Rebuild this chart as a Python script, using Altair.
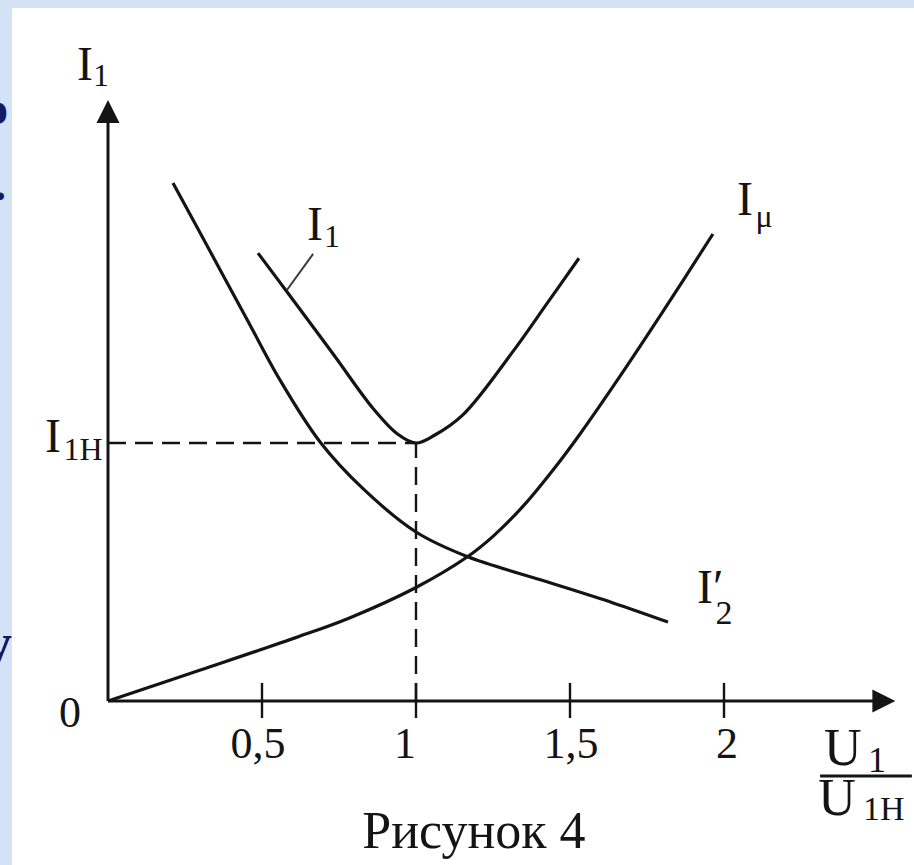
import altair as alt
import pandas as pd

# Voltage ratio U1/U1H (x) and currents in units of the rated current I1H (y)
u_mag = [0.0, 0.30, 0.62, 0.78, 1.0, 1.166, 1.25, 1.35, 1.45, 1.532, 1.662, 1.802, 1.964]
i_mag = [0.0, 0.12, 0.25, 0.32, 0.44, 0.558, 0.638, 0.758, 0.903, 1.034, 1.258, 1.51, 1.81]

u_load = [0.211, 0.331, 0.451, 0.558, 0.688, 0.828, 1.0, 1.166, 1.425, 1.640, 1.818]
i_load = [2.008, 1.744, 1.480, 1.245, 1.005, 0.823, 0.655, 0.560, 0.462, 0.380, 0.306]

u_prim = [0.487, 0.581, 0.731, 0.860, 0.94, 1.0, 1.06, 1.153, 1.315, 1.425, 1.529]
i_prim = [1.736, 1.586, 1.345, 1.135, 1.035, 1.0, 1.03, 1.11, 1.355, 1.54, 1.716]

rated_u = 1.0
rated_i = 1.0
tick_values = [0.5, 1.0, 1.5, 2.0]
tick_labels = ["0,5", "1", "1,5", "2"]
tick_label_u = [0.487, 0.964, 1.503, 2.010]

INK = "#141414"
FONT = "Liberation Serif"

X_DOM = [-0.3117, 2.6169]
Y_DOM = [-0.6357, 2.686]
xs = alt.Scale(domain=X_DOM, nice=False, zero=False)
ys = alt.Scale(domain=Y_DOM, nice=False, zero=False)


def xy():
    return dict(x=alt.X("u:Q", scale=xs, axis=None), y=alt.Y("i:Q", scale=ys, axis=None))


curves = pd.concat([
    pd.DataFrame({"u": u_mag, "i": i_mag, "s": "mu", "k": range(len(u_mag))}),
    pd.DataFrame({"u": u_load, "i": i_load, "s": "load", "k": range(len(u_load))}),
    pd.DataFrame({"u": u_prim, "i": i_prim, "s": "prim", "k": range(len(u_prim))}),
])

lines = alt.Chart(curves).mark_line(
    interpolate="catmull-rom", color=INK, strokeWidth=3.2
).encode(detail="s:N", order="k:Q", **xy())

# coordinate axes
axes_df = pd.DataFrame({
    "u": [0.0, 0.0], "u2": [0.0, 2.484],
    "i": [0.0, 0.0], "i2": [2.244, 0.0],
})
axes = alt.Chart(axes_df).mark_rule(color=INK, strokeWidth=3).encode(
    x2="u2:Q", y2="i2:Q", **xy()
)

arrow_up = alt.Chart(pd.DataFrame({"u": [0.0], "i": [2.285]})).mark_point(
    shape="M0,-1L1,1L-1,1Z", filled=True, size=529, color=INK, opacity=1, strokeWidth=0
).encode(**xy())

arrow_right = alt.Chart(pd.DataFrame({"u": [2.519], "i": [0.0]})).mark_point(
    shape="M1,0L-1,-1L-1,1Z", filled=True, size=529, color=INK, opacity=1, strokeWidth=0
).encode(**xy())

ticks_df = pd.DataFrame({"u": tick_values, "i": [-0.066] * 4, "i2": [0.07] * 4})
ticks = alt.Chart(ticks_df).mark_rule(color=INK, strokeWidth=2.4).encode(
    y2="i2:Q", **xy()
)

# rated-point guides
guides_df = pd.DataFrame({
    "u": [0.0, rated_u], "u2": [rated_u, rated_u],
    "i": [rated_i, 0.0], "i2": [rated_i, rated_i],
})
guides = alt.Chart(guides_df).mark_rule(
    color=INK, strokeWidth=2.4, strokeDash=[18, 9]
).encode(x2="u2:Q", y2="i2:Q", **xy())

leader = alt.Chart(pd.DataFrame({"u": [0.581], "u2": [0.666], "i": [1.593], "i2": [1.733]})).mark_rule(
    color="#3a3a3a", strokeWidth=2
).encode(x2="u2:Q", y2="i2:Q", **xy())

frac = alt.Chart(pd.DataFrame({"u": [2.312], "u2": [2.610], "i": [-0.291]})).mark_rule(
    color=INK, strokeWidth=3
).encode(x2="u2:Q", **xy())

# label pieces: main letter, subscripts, tick labels, caption
labels = [
    ("I", -0.0747, 2.407, 48), ("1", -0.0227, 2.384, 32),
    ("I", 0.672, 1.787, 48), ("1", 0.727, 1.760, 32),
    ("I", 2.068, 1.884, 48), ("μ", 2.130, 1.837, 32),
    ("I′", 1.955, 0.380, 48), ("2", 2.0, 0.300, 34),
    ("I", -0.179, 0.965, 48), ("1Н", -0.081, 0.934, 32),
    ("U", 2.386, -0.248, 52), ("1", 2.497, -0.275, 36),
    ("U", 2.367, -0.442, 52), ("1Н", 2.519, -0.460, 34),
    ("0", -0.123, -0.101, 44),
    ("Рисунок 4", 1.188, -0.570, 52),
]
labels += [(t, u, -0.221, 44) for t, u in zip(tick_labels, tick_label_u)]
lab_df = pd.DataFrame(labels, columns=["t", "u", "i", "sz"])

texts = alt.Chart(lab_df).mark_text(
    font=FONT, color=INK, align="center", baseline="alphabetic"
).encode(
    text="t:N",
    size=alt.Size("sz:Q", scale=None, legend=None),
    **xy(),
)

# slide text peeking out at the left edge
edge_df = pd.DataFrame({"t": ["о", ".", "у"], "u": [-0.325, -0.331, -0.312],
                        "i": [2.236, 1.942, 0.150], "sz": [46, 46, 56]})
edge = alt.Chart(edge_df).mark_text(
    font=FONT, fontWeight="bold", color="#151a66", align="right", baseline="alphabetic"
).encode(
    text="t:N",
    size=alt.Size("sz:Q", scale=None, legend=None),
    **xy(),
)

chart = alt.layer(
    guides, axes, ticks, lines, leader, frac, arrow_up, arrow_right, texts, edge
).properties(
    width=902, height=857,
    padding={"left": 12, "top": 8, "right": 0, "bottom": 0},
    autosize=alt.AutoSizeParams(type="none"),
    background="#d3e3f5",
).configure_view(fill="white", stroke=None)

chart.save("out.html", embed_options={"renderer": "svg", "actions": False})
